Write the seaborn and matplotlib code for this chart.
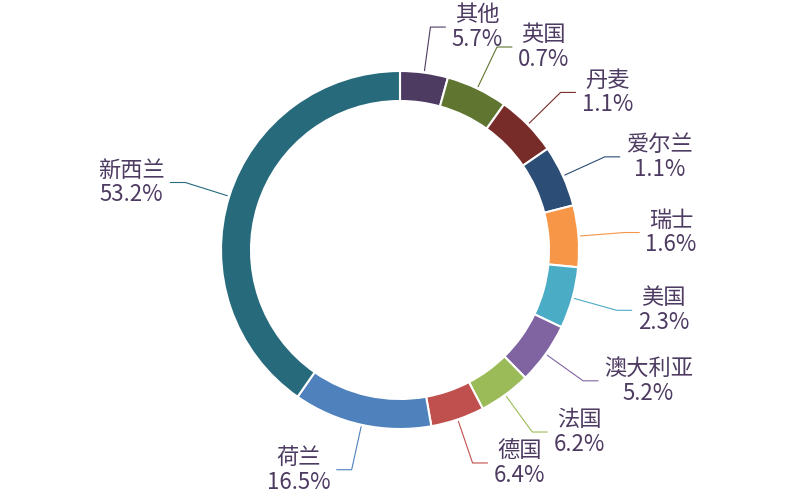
import numpy as np
import seaborn as sns
import matplotlib.pyplot as plt

# 数据（按顺时针顺序，从正上方开始）
names = ["其他", "英国", "丹麦", "爱尔兰", "瑞士", "美国", "澳大利亚", "法国", "德国", "荷兰", "新西兰"]
shares = [5.7, 0.7, 1.1, 1.1, 1.6, 2.3, 5.2, 6.2, 6.4, 16.5, 53.2]
colors = ["#4d3b62", "#5f7530", "#772c2a", "#2c4d75", "#f79646", "#4bacc6",
          "#8064a2", "#9bbb59", "#c0504d", "#4f81bd", "#276a7c"]

MIN_ANGLE = 20  # 小扇区的最小角度（度）
TEXT_COLOR = "#4d3b62"


def min_angle_layout(values, min_angle):
    # 小于最小角度的扇区取最小角度，其余按比例分配剩余角度
    vals = np.array(values, dtype=float)
    ang = vals / vals.sum() * 360
    small = ang < min_angle
    rest = 360 - min_angle * small.sum()
    ang[~small] = vals[~small] / vals[~small].sum() * rest
    ang[small] = min_angle
    return ang


sns.set_theme(style="white")
plt.rcParams["font.family"] = ["Noto Sans CJK SC", "DejaVu Sans"]

fig = plt.figure(figsize=(8, 5), dpi=100)
ax = fig.add_axes([0, 0, 1, 1])

cx, cy = 400, 250
r_out, ring = 179, 30

angles = min_angle_layout(shares, MIN_ANGLE)
palette = sns.color_palette(colors)

ax.pie(angles, colors=palette, radius=r_out, center=(cx, cy),
       startangle=90, counterclock=False,
       wedgeprops=dict(width=ring, edgecolor="white", linewidth=1.5))

# 引导线与标签
mids = np.radians(np.cumsum(angles) - angles / 2)
for name, share, col, m in zip(names, shares, palette, mids):
    sx, sy = cx + 181 * np.sin(m), cy + 181 * np.cos(m)
    ex, ey = cx + 225 * np.sin(m), cy + 225 * np.cos(m)
    side = 1 if np.sin(m) >= 0 else -1
    hx = ex + side * 15
    ax.plot([sx, ex, hx], [sy, ey, ey], color=col, lw=0.8)
    ax.text(hx + side * 6, ey, f"{name}\n{share}%",
            ha="left" if side > 0 else "right", va="center",
            multialignment="center", fontsize=16, color=TEXT_COLOR,
            linespacing=1.1)

ax.set_xlim(0, 800)
ax.set_ylim(0, 500)
ax.set_aspect("equal")
ax.axis("off")

fig.savefig("out.png", dpi=100)
